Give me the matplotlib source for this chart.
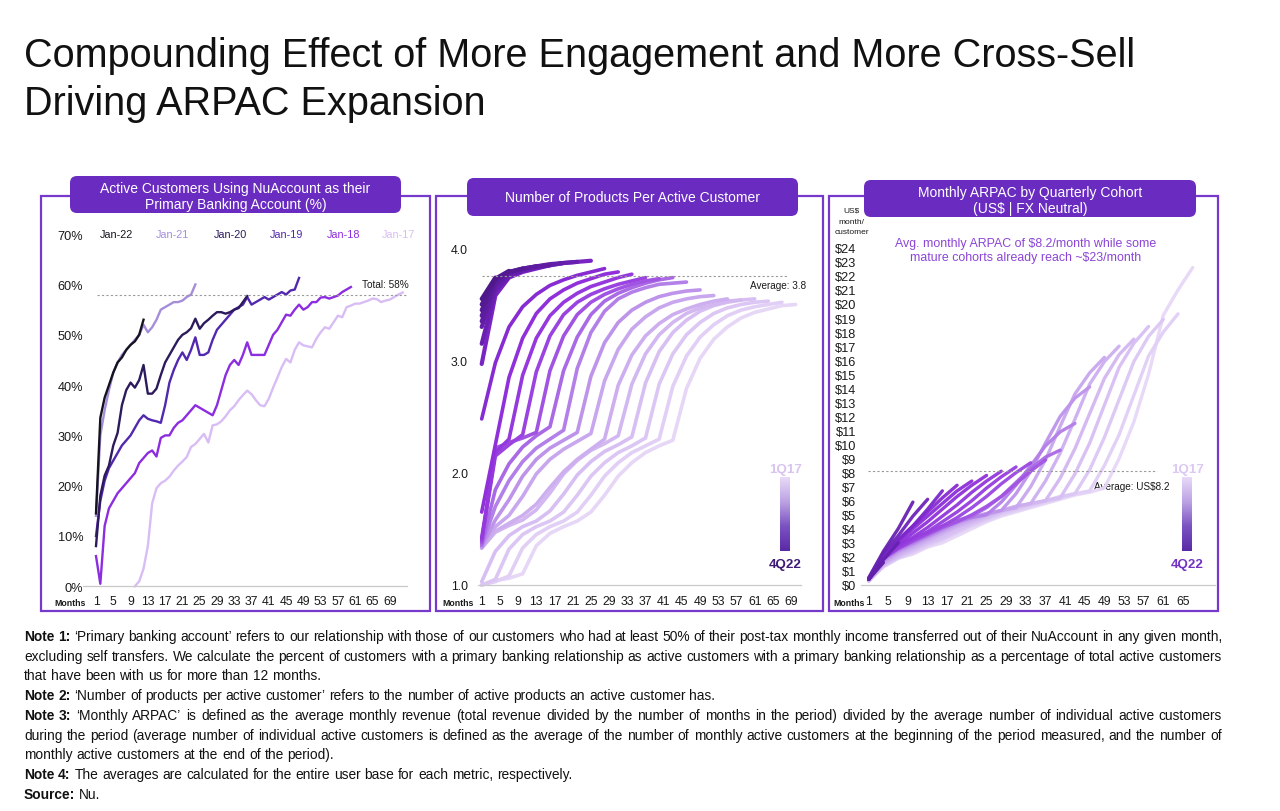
import numpy as np
import matplotlib
matplotlib.use("Agg")
import matplotlib.pyplot as plt
from matplotlib.patches import FancyBboxPatch, Rectangle
from matplotlib.colors import LinearSegmentedColormap

plt.rcParams['font.family'] = ['Liberation Sans', 'DejaVu Sans']

# ===================== DATA =====================
title_line1 = "Compounding Effect of More Engagement and More Cross-Sell"
title_line2 = "Driving ARPAC Expansion"

# ---- Panel 1: primary banking account (% of active customers), monthly ----
pba_title = ["Active Customers Using NuAccount as their", "Primary Banking Account (%)"]
pba_cohorts = ["Jan-22", "Jan-21", "Jan-20", "Jan-19", "Jan-18", "Jan-17"]
pba_first_month = [1, 1, 1, 1, 1, 10]
pba_jan22 = [14.5, 33.5, 37.5, 40.0, 42.5, 44.5, 45.5, 47.0, 48.0, 48.7, 50.0, 53.0]
pba_jan21 = [14.0, 30.0, 35.0, 39.0, 42.5, 44.5, 46.0, 47.0, 48.0, 49.0, 50.0, 52.0,
             50.5, 51.5, 53.0, 55.0, 55.5, 56.0, 56.5, 56.5, 56.8, 57.5, 58.0, 60.0]
pba_jan20 = [8.0, 18.0, 22.0, 24.0, 28.0, 30.5, 36.0, 39.0, 40.5, 39.5, 41.0, 44.0,
             38.3, 38.3, 39.3, 42.0, 44.5, 46.0, 47.5, 49.0, 50.0, 50.5, 51.3, 53.2,
             51.2, 52.3, 53.0, 53.8, 54.5, 54.5, 54.2, 54.5, 55.0, 55.3, 56.5, 57.7]
pba_jan19 = [10.0, 17.0, 21.0, 23.5, 25.0, 26.5, 28.0, 29.0, 30.0, 31.5, 33.0, 34.0,
             33.3, 33.0, 32.8, 32.5, 36.0, 40.5, 43.0, 45.0, 46.5, 45.0, 47.0, 49.5,
             46.0, 46.0, 46.5, 49.0, 51.0, 52.0, 53.0, 54.0, 55.0, 55.5, 56.0, 57.5,
             56.0, 56.5, 57.0, 57.5, 57.0, 57.5, 58.0, 58.5, 58.0, 58.8, 59.0, 61.3]
pba_jan18 = [6.0, 0.5, 12.0, 15.5, 17.0, 18.5, 19.5, 20.5, 21.5, 22.5, 24.5, 25.5,
             26.5, 27.0, 25.8, 29.5, 30.0, 30.0, 31.5, 32.5, 33.0, 34.0, 35.0, 36.0,
             35.5, 35.0, 34.5, 34.0, 36.0, 39.0, 42.0, 44.0, 45.0, 44.0, 46.0, 48.5,
             46.0, 46.0, 46.0, 46.0, 48.0, 50.0, 51.0, 52.5, 54.0, 53.8, 55.0, 56.0,
             55.0, 55.5, 56.5, 56.5, 57.4, 57.5, 57.2, 57.5, 57.8, 58.5, 59.0, 59.5]
pba_jan17 = [0.0, 1.0, 3.5, 8.0, 16.5, 19.5, 20.5, 21.0, 21.8, 23.0, 24.0, 24.8,
             25.7, 27.7, 28.3, 29.3, 30.3, 28.6, 32.0, 32.2, 32.8, 33.8, 35.0, 35.8,
             37.0, 38.0, 38.9, 38.2, 37.0, 36.0, 35.8, 37.3, 39.5, 41.5, 43.6, 45.2,
             44.5, 47.0, 48.5, 47.9, 47.7, 47.5, 49.2, 50.5, 51.5, 51.2, 52.5, 53.8,
             53.5, 55.5, 55.8, 56.2, 56.2, 56.5, 56.8, 57.2, 57.1, 56.5, 56.8, 57.0,
             57.5, 58.0, 58.4]
pba_total = 58
pba_xticks = [1, 5, 9, 13, 17, 21, 25, 29, 33, 37, 41, 45, 49, 53, 57, 61, 65, 69]
pba_yticks = [0, 10, 20, 30, 40, 50, 60, 70]
pba_yticklabels = ["0%", "10%", "20%", "30%", "40%", "50%", "60%", "70%"]

# ---- Panel 2: number of products per active customer (every 3rd month) ----
prod_title = "Number of Products Per Active Customer"
cohorts = ["1Q17", "2Q17", "3Q17", "4Q17", "1Q18", "2Q18", "3Q18", "4Q18",
           "1Q19", "2Q19", "3Q19", "4Q19", "1Q20", "2Q20", "3Q20", "4Q20",
           "1Q21", "2Q21", "3Q21", "4Q21", "1Q22", "2Q22", "3Q22", "4Q22"]
prod_months = [1, 4, 7, 10, 13, 16, 19, 22, 25, 28, 31, 34, 37, 40, 43, 46, 49, 52,
               55, 58, 61, 64, 67, 70]
prod_1q17 = [1.00, 1.04, 1.06, 1.10, 1.35, 1.46, 1.52, 1.57, 1.65, 1.80, 1.97, 2.09,
             2.18, 2.24, 2.29, 2.75, 3.02, 3.19, 3.30, 3.38, 3.43, 3.46, 3.49, 3.50]
prod_2q17 = [1.00, 1.03, 1.08, 1.33, 1.45, 1.52, 1.57, 1.65, 1.80, 1.97, 2.09, 2.18,
             2.24, 2.30, 2.77, 3.04, 3.21, 3.32, 3.40, 3.45, 3.48, 3.50, 3.52]
prod_3q17 = [1.00, 1.05, 1.32, 1.45, 1.52, 1.57, 1.65, 1.80, 1.97, 2.09, 2.18, 2.24,
             2.31, 2.79, 3.06, 3.23, 3.34, 3.42, 3.47, 3.50, 3.52, 3.53]
prod_4q17 = [1.03, 1.30, 1.44, 1.52, 1.57, 1.66, 1.81, 1.98, 2.10, 2.19, 2.25, 2.32,
             2.80, 3.08, 3.25, 3.36, 3.44, 3.49, 3.52, 3.54, 3.55]
prod_1q18 = [1.33, 1.47, 1.53, 1.58, 1.67, 1.82, 1.99, 2.11, 2.20, 2.26, 2.33, 2.79,
             3.06, 3.23, 3.34, 3.42, 3.47, 3.50, 3.53, 3.54]
prod_2q18 = [1.33, 1.48, 1.55, 1.62, 1.72, 1.87, 2.01, 2.12, 2.21, 2.30, 2.78, 3.05,
             3.22, 3.33, 3.41, 3.46, 3.50, 3.53, 3.55]
prod_3q18 = [1.33, 1.52, 1.62, 1.79, 1.99, 2.12, 2.21, 2.28, 2.35, 2.82, 3.10, 3.28,
             3.39, 3.47, 3.52, 3.55, 3.57, 3.58]
prod_4q18 = [1.34, 1.58, 1.76, 1.97, 2.12, 2.22, 2.29, 2.36, 2.86, 3.16, 3.34, 3.45,
             3.52, 3.57, 3.60, 3.62, 3.63]
prod_1q19 = [1.35, 1.70, 1.93, 2.10, 2.22, 2.30, 2.38, 2.93, 3.25, 3.44, 3.55, 3.61,
             3.65, 3.68, 3.69, 3.70]
prod_2q19 = [1.36, 1.85, 2.08, 2.23, 2.33, 2.41, 2.91, 3.21, 3.41, 3.53, 3.60, 3.65,
             3.69, 3.72, 3.74]
prod_3q19 = [1.38, 2.22, 2.27, 2.31, 2.36, 2.91, 3.22, 3.41, 3.52, 3.59, 3.64, 3.68,
             3.71, 3.73]
prod_4q19 = [1.40, 2.15, 2.25, 2.34, 2.90, 3.22, 3.41, 3.52, 3.59, 3.64, 3.68, 3.71, 3.74]
prod_1q20 = [1.42, 2.18, 2.30, 2.87, 3.20, 3.40, 3.52, 3.60, 3.66, 3.70, 3.74, 3.77]
prod_2q20 = [1.65, 2.25, 2.85, 3.20, 3.42, 3.55, 3.63, 3.69, 3.73, 3.77, 3.79]
prod_3q20 = [2.48, 2.98, 3.30, 3.48, 3.59, 3.67, 3.72, 3.76, 3.79, 3.82]
prod_4q20 = [2.97, 3.58, 3.74, 3.79, 3.82, 3.85, 3.87, 3.88, 3.89]
prod_1q21 = [3.15, 3.62, 3.75, 3.80, 3.83, 3.85, 3.87, 3.88]
prod_2q21 = [3.30, 3.66, 3.77, 3.81, 3.84, 3.86, 3.87]
prod_3q21 = [3.35, 3.68, 3.78, 3.82, 3.84, 3.85]
prod_4q21 = [3.40, 3.70, 3.79, 3.82, 3.84]
prod_1q22 = [3.45, 3.72, 3.79, 3.82]
prod_2q22 = [3.50, 3.73, 3.80]
prod_3q22 = [3.55, 3.74]
prod_4q22 = [3.60]
prod_avg_line = 3.75
prod_avg_label = "Average: 3.8"
prod_yticks = [1.0, 2.0, 3.0, 4.0]
prod_yticklabels = ["1.0", "2.0", "3.0", "4.0"]

# ---- Panel 3: monthly ARPAC (US$) by quarterly cohort (every 3rd month) ----
arpac_title = ["Monthly ARPAC by Quarterly Cohort", "(US$ | FX Neutral)"]
arpac_months = [1, 4, 7, 10, 13, 16, 19, 22, 25, 28, 31, 34, 37, 40, 43, 46, 49, 52,
                55, 58, 61, 64, 67]
arpac_1q17 = [0.3, 1.3, 1.9, 2.2, 2.7, 3.0, 3.5, 4.0, 4.5, 4.9, 5.2, 5.5, 5.8, 6.1,
              6.4, 6.6, 6.9, 9.0, 11.6, 15.0, 19.2, 21.0, 22.6]
arpac_2q17 = [0.3, 1.3, 1.9, 2.3, 2.8, 3.2, 3.7, 4.2, 4.6, 5.0, 5.3, 5.6, 5.9, 6.2,
              6.5, 6.7, 8.5, 10.7, 13.5, 16.3, 18.0, 19.3]
arpac_3q17 = [0.3, 1.4, 2.0, 2.4, 2.9, 3.3, 3.8, 4.3, 4.7, 5.1, 5.4, 5.7, 6.0, 6.3,
              6.5, 8.2, 10.5, 13.2, 15.9, 17.7, 18.9]
arpac_4q17 = [0.3, 1.4, 2.0, 2.5, 3.0, 3.4, 3.9, 4.4, 4.8, 5.2, 5.5, 5.8, 6.0, 6.2,
              7.9, 10.1, 12.8, 15.5, 17.2, 18.4]
arpac_1q18 = [0.3, 1.5, 2.1, 2.6, 3.1, 3.6, 4.1, 4.5, 4.9, 5.3, 5.6, 5.8, 6.0, 7.6,
              9.7, 12.2, 14.7, 16.4, 17.5]
arpac_2q18 = [0.3, 1.5, 2.2, 2.7, 3.2, 3.7, 4.2, 4.6, 5.0, 5.3, 5.6, 5.8, 7.4, 9.4,
              11.8, 14.3, 15.9, 17.0]
arpac_3q18 = [0.4, 1.6, 2.3, 2.8, 3.3, 3.8, 4.3, 4.7, 5.0, 5.3, 5.5, 7.0, 8.9, 11.3,
              13.6, 15.1, 16.2]
arpac_4q18 = [0.4, 1.7, 2.4, 2.9, 3.4, 3.9, 4.4, 4.8, 5.1, 5.3, 6.5, 8.1, 10.1, 12.0,
              13.3, 14.1]
arpac_1q19 = [0.4, 1.8, 2.5, 3.0, 3.5, 4.0, 4.5, 4.8, 5.0, 5.9, 7.1, 8.5, 9.9, 10.9, 11.5]
arpac_2q19 = [0.4, 1.9, 2.6, 3.2, 3.7, 4.2, 4.6, 4.9, 5.5, 6.3, 7.3, 8.3, 9.1, 9.6]
arpac_3q19 = [0.4, 1.9, 2.6, 3.1, 3.6, 4.1, 4.5, 5.0, 5.6, 6.3, 7.2, 8.1, 8.9]
arpac_4q19 = [0.4, 1.9, 2.6, 3.2, 3.7, 4.2, 4.8, 5.5, 6.3, 7.2, 8.0, 8.7]
arpac_1q20 = [0.4, 1.9, 2.7, 3.3, 3.8, 4.5, 5.2, 6.0, 6.9, 7.7, 8.4]
arpac_2q20 = [0.4, 2.0, 2.8, 3.4, 4.1, 4.9, 5.7, 6.6, 7.4, 8.1]
arpac_3q20 = [0.4, 2.0, 2.9, 3.7, 4.5, 5.4, 6.3, 7.1, 7.8]
arpac_4q20 = [0.4, 2.1, 3.1, 4.0, 4.9, 5.8, 6.7, 7.4]
arpac_1q21 = [0.4, 2.1, 3.2, 4.2, 5.2, 6.2, 7.1]
arpac_2q21 = [0.4, 2.1, 3.2, 4.2, 5.4, 6.7]
arpac_3q21 = [0.5, 2.3, 3.5, 4.9, 6.1]
arpac_4q21 = [0.5, 2.4, 4.0, 5.9]
arpac_1q22 = [0.4, 1.8, 3.0]
arpac_2q22 = [0.4, 1.6]
arpac_3q22 = [0.4]
arpac_4q22 = []
arpac_avg_line = 8.1
arpac_avg_label = "Average: US$8.2"
arpac_note = ["Avg. monthly ARPAC of $8.2/month while some",
              "mature cohorts already reach ~$23/month"]
arpac_xticks = [1, 5, 9, 13, 17, 21, 25, 29, 33, 37, 41, 45, 49, 53, 57, 61, 65]
arpac_yticks = list(range(0, 25))
arpac_yticklabels = ["$" + str(v) for v in arpac_yticks]

notes = [
    ([("Note 1:", True), ("\u2018Primary banking account\u2019 refers to our relationship with those of our customers who had at least 50% of their post-tax monthly income transferred out of their NuAccount in any given month,", False)], True),
    ([("excluding self transfers. We calculate the percent of customers with a primary banking relationship as active customers with a primary banking relationship as a percentage of total active customers", False)], True),
    ([("that have been with us for more than 12 months.", False)], False),
    ([("Note 2:", True), ("\u2018Number of products per active customer\u2019 refers to the number of active products an active customer has.", False)], False),
    ([("Note 3:", True), ("\u2018Monthly ARPAC\u2019 is defined as the average monthly revenue (total revenue divided by the number of months in the period) divided by the average number of individual active customers", False)], True),
    ([("during the period (average number of individual active customers is defined as the average of the number of monthly active customers at the beginning of the period measured, and the number of", False)], True),
    ([("monthly active customers at the end of the period).", False)], False),
    ([("Note 4:", True), ("The averages are calculated for the entire user base for each metric, respectively.", False)], False),
    ([("Source:", True), ("Nu.", False)], False),
]

prod_series = [prod_1q17, prod_2q17, prod_3q17, prod_4q17, prod_1q18, prod_2q18,
               prod_3q18, prod_4q18, prod_1q19, prod_2q19, prod_3q19, prod_4q19,
               prod_1q20, prod_2q20, prod_3q20, prod_4q20, prod_1q21, prod_2q21,
               prod_3q21, prod_4q21, prod_1q22, prod_2q22, prod_3q22, prod_4q22]
arpac_series = [arpac_1q17, arpac_2q17, arpac_3q17, arpac_4q17, arpac_1q18, arpac_2q18,
                arpac_3q18, arpac_4q18, arpac_1q19, arpac_2q19, arpac_3q19, arpac_4q19,
                arpac_1q20, arpac_2q20, arpac_3q20, arpac_4q20, arpac_1q21, arpac_2q21,
                arpac_3q21, arpac_4q21, arpac_1q22, arpac_2q22, arpac_3q22, arpac_4q22]
pba_series = [pba_jan22, pba_jan21, pba_jan20, pba_jan19, pba_jan18, pba_jan17]

# ===================== STYLE / LAYOUT =====================
W, H = 1280, 812
fig = plt.figure(figsize=(W / 100, H / 100), dpi=100)
renderer = fig.canvas.get_renderer()

TXT = '#1a1a1a'
FRAME = '#7739CC'
TITLE_FILL = '#6A2BC1'
GRID_GREY = '#C9C9C9'
DASH_GREY = '#9A9A9A'

bg = fig.add_axes([0, 0, 1, 1], zorder=0)
bg.set_xlim(0, W)
bg.set_ylim(H, 0)
bg.axis('off')


def px_axes(x0, y0, x1, y1, m_px, m_scale, v_base, v_px, v_scale):
    ax = fig.add_axes([x0 / W, 1 - y1 / H, (x1 - x0) / W, (y1 - y0) / H], zorder=2)
    ax.set_facecolor('none')
    ax.set_xlim(1 + (x0 - m_px) / m_scale, 1 + (x1 - m_px) / m_scale)
    ax.set_ylim(v_base + (v_px - y1) / v_scale, v_base + (v_px - y0) / v_scale)
    for s in ax.spines.values():
        s.set_visible(False)
    ax.tick_params(length=0, colors=TXT)
    return ax


def width_of(t):
    return t.get_window_extent(renderer=renderer).width


# Title (fitted to reference width)
t1 = bg.text(24, 56, title_line1, fontsize=28, va='center', ha='left', color='#111111')
scale = 1113 / width_of(t1)
t1.set_fontsize(28 * scale)
bg.text(24, 104, title_line2, fontsize=28 * scale, va='center', ha='left', color='#111111')

# Panel frames and title boxes
for (x0, y0, x1, y1) in [(41, 197, 430, 612), (436, 197, 823, 612), (829, 197, 1218, 612)]:
    bg.add_patch(Rectangle((x0, y0), x1 - x0, y1 - y0, fill=False, ec=FRAME, lw=1.6, zorder=1))
for (x0, y0, x1, y1) in [(70, 177, 401, 214), (467, 179, 798, 217), (864, 181, 1196, 218)]:
    bg.add_patch(FancyBboxPatch((x0, y0), x1 - x0, y1 - y0,
                                boxstyle="round,pad=0,rounding_size=7",
                                fc=TITLE_FILL, ec='none', zorder=3))
TS = 10.0
bg.text(235.5, 188.5, pba_title[0], color='white', fontsize=TS, ha='center', va='center', zorder=4)
bg.text(235.5, 204.5, pba_title[1], color='white', fontsize=TS, ha='center', va='center', zorder=4)
bg.text(632.5, 198.5, prod_title, color='white', fontsize=TS, ha='center', va='center', zorder=4)
bg.text(1030, 192.5, arpac_title[0], color='white', fontsize=TS, ha='center', va='center', zorder=4)
bg.text(1030, 208.5, arpac_title[1], color='white', fontsize=TS, ha='center', va='center', zorder=4)

# ---------------- Panel 1 ----------------
axL = px_axes(88, 228, 412, 592, 96, 4.32, 0.0, 587.3, 5.03)
pba_colors = ['#15131f', '#A58DDA', '#2C1A5C', '#5128AE', '#8C2DE0', '#D8BDF5']
pba_label_x = [116.5, 172.5, 230, 286.5, 343.5, 399]
for i in range(len(pba_cohorts) - 1, -1, -1):
    vals = pba_series[i]
    months = list(range(pba_first_month[i], pba_first_month[i] + len(vals)))
    axL.plot(months, vals, color=pba_colors[i], lw=1.7, solid_joinstyle='round')
for i, lab in enumerate(pba_cohorts):
    bg.text(pba_label_x[i], 234.5, lab, color=pba_colors[i], fontsize=7.8,
            ha='center', va='center')
axL.axhline(0, xmin=-0.016, xmax=0.985, color=GRID_GREY, lw=0.9, clip_on=False)
axL.axhline(pba_total, xmin=(97 - 88) / 324, xmax=(408 - 88) / 324, color=DASH_GREY,
            lw=0.8, ls=(0, (2, 2)))
bg.text(385, 285, "Total: %d%%" % pba_total, fontsize=7.2, ha='center', va='center', color=TXT)
axL.set_xticks(pba_xticks)
axL.set_xticklabels([str(v) for v in pba_xticks], fontsize=8.8)
axL.set_yticks(pba_yticks)
axL.set_yticklabels(pba_yticklabels, fontsize=9.2)
axL.tick_params(axis='y', pad=3.5)
axL.tick_params(axis='x', pad=3.0)
bg.text(70.5, 603.5, "Months", fontsize=6.3, fontweight='bold', ha='center', va='center', color=TXT)

# ---------------- Panel 2 ----------------
axM = px_axes(474, 240, 805, 592, 481.7, 4.55, 1.0, 586, 112.2)
coh_cmap = LinearSegmentedColormap.from_list('coh', [
    (0.0, '#E6D7F7'), (0.26, '#C8A7EE'), (0.36, '#B07AE7'), (0.46, '#9C48E1'),
    (0.55, '#9231DC'), (0.6, '#8A2CD5'), (0.65, '#7A25C3'), (0.7, '#6820B0'),
    (1.0, '#4A1684')])
n = len(cohorts)
for c in range(n):
    vals = prod_series[c]
    if len(vals) == 0:
        continue
    axM.plot(prod_months[:len(vals)], vals, color=coh_cmap(c / (n - 1)),
             lw=2.6 if c < 15 else 3.0,
             solid_capstyle='round', solid_joinstyle='round')
axM.axhline(1.0, xmin=(478 - 474) / 331, xmax=(801 - 474) / 331, color=GRID_GREY, lw=0.9)
axM.axhline(prod_avg_line, xmin=(482 - 474) / 331, xmax=(788 - 474) / 331, color=DASH_GREY,
            lw=0.8, ls=(0, (2, 2)))
bg.text(806, 286, prod_avg_label, fontsize=7.2, ha='right', va='center', color=TXT)
axM.set_xticks(pba_xticks)
axM.set_xticklabels([str(v) for v in pba_xticks], fontsize=8.8)
axM.set_yticks(prod_yticks)
axM.set_yticklabels(prod_yticklabels, fontsize=8.8)
axM.tick_params(axis='y', pad=4.3)
axM.tick_params(axis='x', pad=3.0)
bg.text(457.7, 603.5, "Months", fontsize=6.3, fontweight='bold', ha='center', va='center', color=TXT)

# ---------------- Panel 3 ----------------
axR = px_axes(862, 240, 1215, 592, 868.7, 4.91, 0.0, 586, 14.05)
arp_cmap = LinearSegmentedColormap.from_list('arp', [
    (0.0, '#E6D7F7'), (0.26, '#C8A7EE'), (0.36, '#B07AE7'), (0.46, '#9C48E1'),
    (0.6, '#9032DC'), (0.72, '#8429D2'), (0.8, '#6A24B6'), (1.0, '#5A1FA0')])
na = len(cohorts)
for c in range(na):
    vals = arpac_series[c]
    if len(vals) == 0:
        continue
    axR.plot(arpac_months[:len(vals)], vals, color=arp_cmap(c / (na - 1)), lw=2.4,
             solid_capstyle='round', solid_joinstyle='round', alpha=0.95)
axR.axhline(0, xmin=-0.003, xmax=1.0, color=GRID_GREY, lw=0.9, clip_on=False)
axR.axhline(arpac_avg_line, xmin=(868 - 862) / 353, xmax=(1157 - 862) / 353, color=DASH_GREY,
            lw=0.8, ls=(0, (2, 2)))
bg.text(1132, 487, arpac_avg_label, fontsize=7.2, ha='center', va='center', color=TXT, zorder=5)
axR.set_xticks(arpac_xticks)
axR.set_xticklabels([str(v) for v in arpac_xticks], fontsize=8.8)
axR.set_yticks(arpac_yticks)
axR.set_yticklabels(arpac_yticklabels, fontsize=9.2)
axR.tick_params(axis='y', pad=4.3)
axR.tick_params(axis='x', pad=3.0)
bg.text(849, 603.5, "Months", fontsize=6.3, fontweight='bold', ha='center', va='center', color=TXT)
for yy, s in [(211, "US$"), (222, "month/"), (232, "customer")]:
    bg.text(851.5, yy, s, fontsize=6.0, ha='center', va='center', color=TXT)
bg.text(1025.5, 244.5, arpac_note[0], fontsize=8.9, ha='center', va='center', color='#8C44D6')
bg.text(1025.5, 258.5, arpac_note[1], fontsize=8.9, ha='center', va='center', color='#8C44D6')

# colour bars
cb_cmap = LinearSegmentedColormap.from_list('cb', ['#E8DAF7', '#BBA2E3', '#7B52C2', '#5A2AA6'])
grad = np.linspace(0, 1, 200).reshape(-1, 1)
for (x0, x1, lab_top_c, lab_bot_c) in [(780, 790, '#D8C3F1', '#3E1B76'),
                                        (1182, 1192, '#DCC9F3', '#7334C3')]:
    cax = fig.add_axes([x0 / W, 1 - 552 / H, (x1 - x0) / W, (552 - 478) / H], zorder=3)
    cax.imshow(grad, aspect='auto', cmap=cb_cmap)
    cax.axis('off')
    xc = (x0 + x1) / 2 + 0.5
    bg.text(xc, 470.5, cohorts[0], fontsize=9.6, fontweight='bold', ha='center', va='center',
            color=lab_top_c)
    bg.text(xc, 565, cohorts[-1], fontsize=9.6, fontweight='bold', ha='center', va='center',
            color=lab_bot_c)

# ---------------- Notes (justified) ----------------
note_y = [637, 657, 676.5, 696.5, 716.5, 736, 755.5, 775.5, 795]
X0, X1 = 24, 1222
probe = bg.text(0, -100, "Note 2: \u2018Number of products per active customer\u2019 refers to the number of active products an active customer has.",
                fontsize=10)
note_size = 10 * 690 / width_of(probe)
probe.remove()
sp1 = bg.text(0, -100, "a a", fontsize=note_size)
sp2 = bg.text(0, -100, "aa", fontsize=note_size)
space_w = width_of(sp1) - width_of(sp2)
sp1.remove(); sp2.remove()

for (segs, justify), y in zip(notes, note_y):
    words = []
    for txt, bold in segs:
        for w in txt.split():
            words.append((w, bold))
    arts, widths = [], []
    for w, bold in words:
        t = bg.text(0, y, w, fontsize=note_size, fontweight='bold' if bold else 'normal',
                    ha='left', va='center', color='#111111')
        arts.append(t)
        widths.append(width_of(t))
    if justify and len(words) > 1:
        gap = (X1 - X0 - sum(widths)) / (len(words) - 1)
    else:
        gap = space_w
    x = X0
    for t, wdt in zip(arts, widths):
        t.set_x(x)
        x += wdt + gap

fig.savefig("out.png", dpi=100)
